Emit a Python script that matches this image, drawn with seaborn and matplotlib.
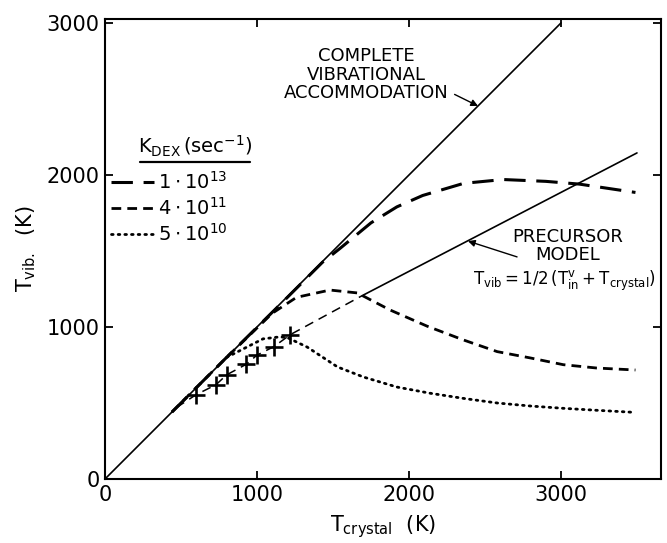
import matplotlib
matplotlib.use("Agg")
import matplotlib.pyplot as plt
from matplotlib.lines import Line2D
import seaborn as sns

# Crystal temperature (K) vs. vibrational temperature of desorbing molecules (K)
complete_x = [0, 3000]
complete_y = [0, 3000]

precursor_low_x = [470, 600, 730, 800, 930, 1000, 1110, 1220, 1690]
precursor_low_y = [470, 555, 620, 685, 755, 815, 870, 950, 1205]
precursor_x = [1690, 3500]
precursor_y = [1205, 2145]

k13_x = [440, 800, 1200, 1430, 1550, 1750, 1920, 2090, 2360, 2620, 2900, 3120, 3490]
k13_y = [440, 800, 1195, 1425, 1520, 1685, 1790, 1865, 1945, 1970, 1958, 1940, 1885]

k11_x = [440, 800, 1100, 1260, 1480, 1660, 1875, 2120, 2360, 2580, 2800, 3015, 3235, 3490]
k11_y = [440, 800, 1090, 1195, 1243, 1224, 1112, 1005, 914, 838, 796, 752, 730, 717]

k10_x = [800, 1040, 1150, 1200, 1330, 1530, 1700, 1920, 2140, 2360, 2580, 2800, 3015, 3235, 3490]
k10_y = [800, 922, 935, 930, 868, 737, 671, 605, 564, 530, 500, 480, 465, 452, 438]

meas_x = [600, 730, 800, 930, 1000, 1110, 1220]
meas_y = [555, 620, 685, 755, 815, 870, 950]

k_labels = [r"$1\cdot10^{13}$", r"$4\cdot10^{11}$", r"$5\cdot10^{10}$"]
x_ticks = [0, 1000, 2000, 3000]
y_ticks = [0, 1000, 2000, 3000]

sns.set_theme(style="ticks")
plt.rcParams["font.family"] = ["DejaVu Sans"]
plt.rcParams["mathtext.fontset"] = "dejavusans"
plt.rcParams["mathtext.default"] = "regular"
ink = "black"
for key in ("text.color", "axes.labelcolor", "xtick.color", "ytick.color",
            "axes.edgecolor"):
    plt.rcParams[key] = ink

W, H = 667, 543
fig = plt.figure(figsize=(W / 100, H / 100), dpi=100)
ax = fig.add_axes([105 / W, 1 - 479 / H, 556 / W, 460 / H])


def fpos(px, py):
    """Figure fraction from pixel position (origin top-left)."""
    return px / W, 1 - py / H


sns.lineplot(x=complete_x, y=complete_y, ax=ax, color=ink, lw=1.2)
sns.lineplot(x=precursor_x, y=precursor_y, ax=ax, color=ink, lw=1.2)
sns.lineplot(x=precursor_low_x, y=precursor_low_y, ax=ax, color=ink, lw=1.1,
             linestyle=(0, (6, 4)))

h13 = sns.lineplot(x=k13_x, y=k13_y, ax=ax, color=ink, lw=2.2,
                   linestyle=(0, (7, 3.5))).lines[-1]
h11 = sns.lineplot(x=k11_x, y=k11_y, ax=ax, color=ink, lw=2.0,
                   linestyle=(0, (3.5, 2.2))).lines[-1]
h10 = sns.lineplot(x=k10_x, y=k10_y, ax=ax, color=ink, lw=2.0,
                   linestyle=(0, (0.6, 1.8)), dash_capstyle="round").lines[-1]

# measured points
sns.scatterplot(x=meas_x, y=meas_y, ax=ax, marker="+", s=160, color=ink,
                linewidth=1.9, zorder=5)

ax.set_xlim(0, 3658)
ax.set_ylim(0, 3026)
ax.set_xticks(x_ticks)
ax.set_yticks(y_ticks)
ax.tick_params(direction="in", length=6, width=1.3, top=True, right=True,
               labelsize=15, pad=4)
for s in ax.spines.values():
    s.set_visible(True)
    s.set_linewidth(1.5)

ax.set_xlabel(r"$T_{crystal}$  (K)", fontsize=15, labelpad=6)
ax.set_ylabel(r"$T_{vib.}$  (K)", fontsize=15, labelpad=6)

# Legend for the deexcitation rate constants
leg = ax.legend(handles=[h13, h11, h10], labels=k_labels,
                loc="upper left", bbox_to_anchor=fpos(111, 171),
                bbox_transform=fig.transFigure, frameon=False, fontsize=14,
                handlelength=2.2, handletextpad=0.2, labelspacing=0.22,
                borderpad=0.0, borderaxespad=0.0)
fig.text(*fpos(195, 146), r"$K_{DEX}\,(sec^{-1})$", ha="center", va="center",
         fontsize=14)
fig.add_artist(Line2D([fpos(140, 0)[0], fpos(250, 0)[0]],
                      [fpos(0, 162)[1]] * 2, color=ink, lw=1.6))

ax.text(1717, 2842, "COMPLETE\nVIBRATIONAL\nACCOMMODATION", ha="center",
        va="top", fontsize=13, linespacing=1.05)
ax.annotate("", xy=(2454, 2454), xytext=(2300, 2530),
            arrowprops=dict(arrowstyle="-|>", color=ink, lw=1.0,
                            shrinkA=0, shrinkB=0, mutation_scale=10))
ax.text(3046, 1532, "PRECURSOR\nMODEL", ha="center", va="center",
        fontsize=13, linespacing=1.05)
ax.annotate("", xy=(2388, 1565), xytext=(2711, 1461),
            arrowprops=dict(arrowstyle="-|>", color=ink, lw=1.0,
                            shrinkA=0, shrinkB=0, mutation_scale=10))
ax.text(3020, 1300, r"$T_{vib}=1/2\,(T^{v}_{in}+T_{crystal})$",
        ha="center", va="center", fontsize=12)

fig.savefig("out.png", dpi=100)
